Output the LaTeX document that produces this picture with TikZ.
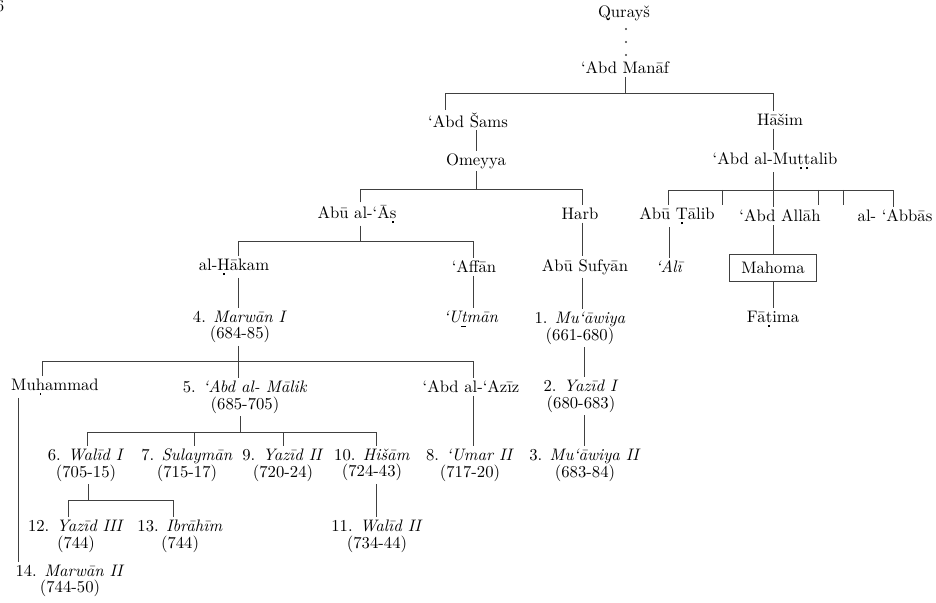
\documentclass[tikz,border=0pt]{standalone}
\newcommand\dotu[1]{\leavevmode\setbox0=\hbox{#1}\rlap{\hbox to\wd0{\hss\raisebox{-0.65ex}{\rule{0.11em}{0.11em}}\hss}}\box0}
\newcommand\linu[1]{\leavevmode\setbox0=\hbox{#1}\rlap{\hbox to\wd0{\hss\raisebox{-0.55ex}{\rule{0.32em}{0.35pt}}\hss}}\box0}
\begin{document}
\begin{tikzpicture}[x=0.6pt,y=-0.6pt,
  nm/.style={inner sep=1.5pt, align=center, font=\fontsize{10}{10}\selectfont},
  conn/.style={draw=black!75, line width=0.5pt}]
\useasboundingbox (0,0) rectangle (936,603);
\clip (0,0) rectangle (936,603);
% nodes
\node[nm] (pg) at (0,6) {6};
\node[nm] (quraysh) at (624,13) {Qurayš};
\node[nm] (manaf) at (625,68) {‘Abd Manāf};
\node[nm] (sams) at (468,120) {‘Abd Šams};
\node[nm] (hasim) at (780,120) {Hāšim};
\node[nm] (omeyya) at (476,161) {Omeyya};
\node[nm] (muttalib) at (775,161) {‘Abd al-Mu\dotu{t}\dotu{t}alib};
\node[nm] (abualas) at (357,214) {Abū al-‘Ā\dotu{s}};
\node[nm] (harb) at (580,214) {Harb};
\node[nm] (abutalib) at (677,216) {Abū \dotu{T}ālib};
\node[nm] (abdallah) at (780,216) {‘Abd Allāh};
\node[nm] (abbas) at (895,216) {al- ‘Abbās};
\node[nm] (hakam) at (234,267) {al-\dotu{H}ākam};
\node[nm] (affan) at (474,267) {‘Affān};
\node[nm] (sufyan) at (585,267) {Abū Sufyān};
\node[nm] (ali) at (670,267) {\textit{‘Alī}};
\node[nm, draw=black!75, line width=0.5pt, minimum width=52pt, minimum height=16pt] (mahoma) at (773,268) {Mahoma};
\node[nm] (marwan1) at (240,327) {4. \textit{Marwān I}\\(684-85)};
\node[nm] (uthman) at (471,319) {\textit{‘U\linu{t}mān}};
\node[nm] (muawiya1) at (580,328) {1. \textit{Mu‘āwiya}\\(661-680)};
\node[nm] (fatima) at (773,319) {Fā\dotu{t}ima};
\node[nm] (muhammad) at (55,387) {Mu\dotu{h}ammad};
\node[nm] (abdalmalik) at (245,397) {5. \textit{‘Abd al- Mālik}\\(685-705)};
\node[nm] (abdalaziz) at (471,387) {‘Abd al-‘Azīz};
\node[nm] (yazid1) at (581,396) {2. \textit{Yazīd I}\\(680-683)};
\node[nm] (walid1) at (86,465) {6. \textit{Walīd I}\\(705-15)};
\node[nm] (sulayman) at (187,465) {7. \textit{Sulaymān}\\(715-17)};
\node[nm] (yazid2) at (283,465) {9. \textit{Yazīd II}\\(720-24)};
\node[nm] (hisam) at (372,465) {10. \textit{Hišām}\\(724-43)};
\node[nm] (umar2) at (470,465) {8. \textit{‘Umar II}\\(717-20)};
\node[nm] (muawiya2) at (585,465) {3. \textit{Mu‘āwiya II}\\(683-84)};
\node[nm] (yazid3) at (76,536) {12. \textit{Yazīd III}\\(744)};
\node[nm] (ibrahim) at (180,536) {13. \textit{Ibrāhīm}\\(744)};
\node[nm] (walid2) at (377,536) {11. \textit{Walīd II}\\(734-44)};
\node[nm] (marwan2) at (70,581) {14. \textit{Marwān II}\\(744-50)};
% coordinates
\coordinate (q1) at (626,29); \coordinate (q2) at (626,56);
\coordinate (b1l) at (445,93); \coordinate (b1r) at (773,93);
\coordinate (b3l) at (360,189); \coordinate (b3r) at (582,189);
\coordinate (c3l) at (668,190); \coordinate (c3r) at (893,190);
\coordinate (t1) at (722,190); \coordinate (t2) at (818,190); \coordinate (t3) at (843,190);
\coordinate (xa) at (669,0);
\coordinate (b4l) at (238,241); \coordinate (b4r) at (473,241);
\coordinate (b6l) at (42,361); \coordinate (b6m) at (238,361); \coordinate (b6r) at (473,361);
\coordinate (xm) at (18,0); \coordinate (xy) at (584,0);
\coordinate (b7a) at (87,432); \coordinate (b7b) at (194,432); \coordinate (b7c) at (283,432);
\coordinate (b7d) at (376,432); \coordinate (b7m) at (240,432);
\coordinate (b8l) at (68,500); \coordinate (b8r) at (173,500); \coordinate (b8m) at (88,500);
% connectors
\draw[conn, line width=1.3pt, line cap=round, dash pattern=on 0pt off 7.8pt] (q1) -- (q2);
\draw[conn] (manaf.south) -- (manaf.south |- b1l);
\draw[conn] (sams.north -| b1l) -- (b1l) -- (b1r) -- (b1r |- hasim.north);
\draw[conn] (sams.south -| omeyya.north) -- (omeyya.north);
\draw[conn] (omeyya.south) -- (omeyya.south |- b3l);
\draw[conn] (abualas.north -| b3l) -- (b3l) -- (b3r) -- (b3r |- harb.north);
\draw[conn] (hasim.south -| b1r) -- (muttalib.north -| b1r);
\draw[conn] (muttalib.south -| b1r) -- (b1r |- c3l);
\draw[conn] (abutalib.north -| c3l) -- (c3l) -- (c3r) -- (c3r |- abbas.north);
\draw[conn] (b1r |- c3l) -- (abdallah.north -| b1r);
\draw[conn] (t1) -- (t1 |- abutalib.north);
\draw[conn] (t2) -- (t2 |- abutalib.north);
\draw[conn] (t3) -- (t3 |- abutalib.north);
\draw[conn] (abutalib.south -| xa) -- (ali.north -| xa);
\draw[conn] (abdallah.south -| b1r) -- (mahoma.north -| b1r);
\draw[conn] (mahoma.south -| b1r) -- (fatima.north -| b1r);
\draw[conn] (abualas.south -| b3l) -- (b3l |- b4l);
\draw[conn] (hakam.north -| b4l) -- (b4l) -- (b4r) -- (b4r |- affan.north);
\draw[conn] (harb.south -| b3r) -- (sufyan.north -| b3r);
\draw[conn] (hakam.south -| b4l) -- (marwan1.north -| b4l);
\draw[conn] (affan.south -| b4r) -- (uthman.north -| b4r);
\draw[conn] (sufyan.south -| b3r) -- (muawiya1.north -| b3r);
\draw[conn] (marwan1.south -| b6m) -- (b6m);
\draw[conn] (muhammad.north -| b6l) -- (b6l) -- (b6r) -- (b6r |- abdalaziz.north);
\draw[conn] (b6m) -- (abdalmalik.north -| b6m);
\draw[conn] (muawiya1.south -| xy) -- (yazid1.north -| xy);
\draw[conn] (muhammad.south -| xm) -- (marwan2.north -| xm);
\draw[conn] (abdalmalik.south -| b7m) -- (b7m);
\draw[conn] (walid1.north -| b7a) -- (b7a) -- (b7d) -- (b7d |- hisam.north);
\draw[conn] (b7b) -- (b7b |- sulayman.north);
\draw[conn] (b7c) -- (b7c |- yazid2.north);
\draw[conn] (abdalaziz.south -| b6r) -- (umar2.north -| b6r);
\draw[conn] (yazid1.south -| xy) -- (muawiya2.north -| xy);
\draw[conn] (walid1.south -| b8m) -- (b8m);
\draw[conn] (yazid3.north -| b8l) -- (b8l) -- (b8r) -- (b8r |- ibrahim.north);
\draw[conn] (hisam.south -| b7d) -- (walid2.north -| b7d);
\end{tikzpicture}
\end{document}
